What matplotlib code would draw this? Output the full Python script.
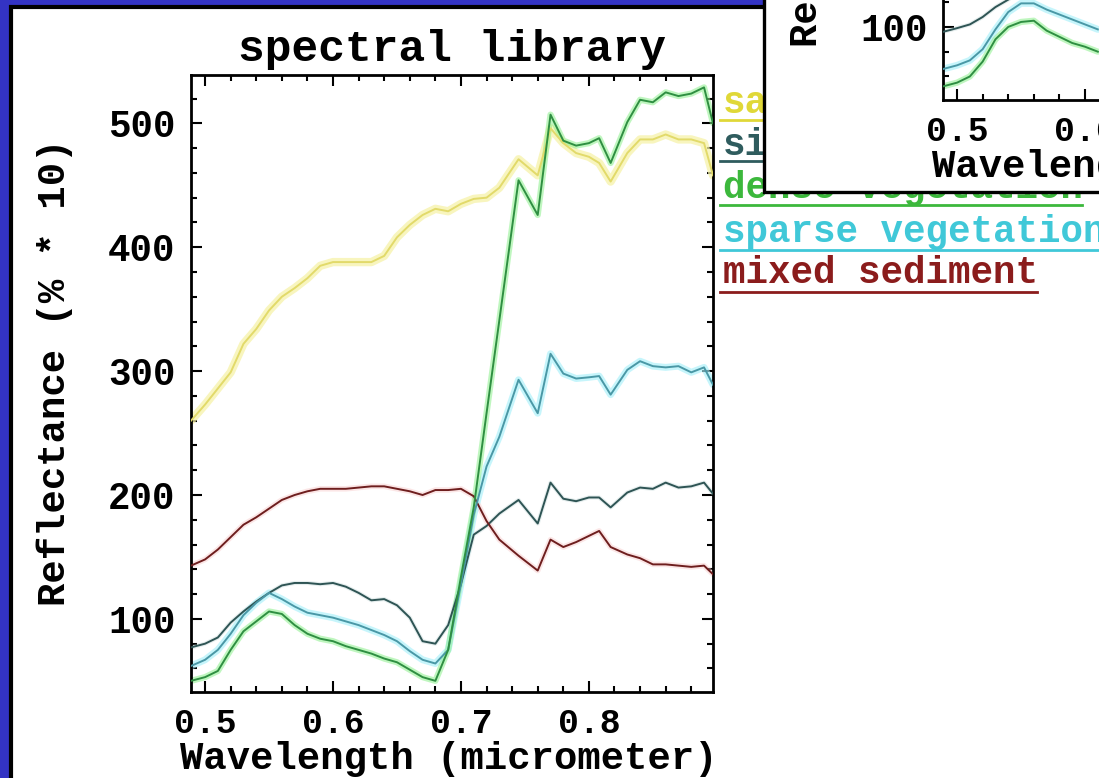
import matplotlib
matplotlib.use("Agg")
import matplotlib.pyplot as plt
from matplotlib.patches import Rectangle
from matplotlib.lines import Line2D
from matplotlib.ticker import MultipleLocator

# ---------------- data ----------------
wavelength = [0.489, 0.50, 0.51, 0.52, 0.53, 0.54, 0.55, 0.56, 0.57, 0.58,
              0.59, 0.60, 0.61, 0.62, 0.63, 0.64, 0.65, 0.66, 0.67, 0.68,
              0.69, 0.70, 0.71, 0.72, 0.73, 0.745, 0.76, 0.77, 0.78, 0.79,
              0.80, 0.808, 0.817, 0.83, 0.84, 0.85, 0.86, 0.87, 0.88, 0.89, 0.897]

sand = [260, 273, 286, 299, 322, 334, 349, 360, 367, 375,
        385, 388, 388, 388, 388, 393, 408, 418, 426, 431,
        429, 435, 439, 440, 448, 471, 458, 496, 484, 476,
        473, 468, 453, 476, 487, 487, 491, 487, 487, 484, 458]

silt = [77, 80, 85, 97, 106, 114, 121, 127, 129, 129,
        128, 129, 126, 121, 115, 116, 111, 101, 82, 80,
        95, 128, 168, 175, 185, 196, 177, 210, 197, 195,
        198, 198, 190, 202, 206, 205, 210, 206, 207, 210, 201]

dense_vegetation = [50, 53, 58, 75, 90, 98, 106, 104, 95, 88,
                    84, 82, 78, 75, 72, 68, 65, 59, 53, 50,
                    75, 134, 190, 266, 341, 454, 426, 507, 486, 482,
                    484, 488, 468, 501, 519, 517, 525, 522, 524, 529, 500]

sparse_vegetation = [62, 67, 75, 88, 103, 113, 121, 116, 110, 105,
                     103, 101, 98, 95, 91, 87, 82, 74, 67, 64,
                     75, 128, 184, 223, 247, 293, 266, 314, 298, 294,
                     295, 296, 281, 301, 308, 304, 303, 304, 299, 303, 289]

mixed_sediment = [143, 148, 156, 166, 176, 182, 189, 196, 200, 203,
                  205, 205, 205, 206, 207, 207, 205, 203, 200, 204,
                  204, 205, 199, 179, 164, 151, 139, 164, 158, 162,
                  167, 171, 158, 152, 149, 144, 144, 143, 142, 143, 136]

# second (overlapping) window, only its lower-left corner is visible
inset_wavelength = [0.489, 0.50, 0.51, 0.52, 0.53, 0.54, 0.55, 0.56, 0.57,
                    0.58, 0.59, 0.60, 0.61]
inset_silt = [96, 99, 102, 108, 116, 122, 128, 131, 133, 133, 132, 132, 130]
inset_sparse = [66, 69, 73, 82, 98, 112, 119, 119, 114, 110, 106, 102, 98]
inset_dense = [52, 55, 60, 72, 90, 100, 104, 105, 97, 92, 87, 84, 80]

series_labels = ["sand", "silt", "dense vegetation", "sparse vegetation",
                 "mixed sediment"]
x_ticks = [0.5, 0.6, 0.7, 0.8]
y_ticks = [100, 200, 300, 400, 500]
title_text = "spectral library"
x_label = "Wavelength (micrometer)"
y_label = "Reflectance (% * 10)"

# ---------------- styles ----------------
styles = {
    "sand":              dict(core="#e2da6a", glow="#f6f2a8", gw=6.0, ga=0.75, text="#e0d838"),
    "silt":              dict(core="#2e5454", glow="#b8d0d0", gw=3.0, ga=0.35, text="#2f5c5e"),
    "dense vegetation":  dict(core="#2f8f42", glow="#8cf08c", gw=4.5, ga=0.55, text="#3cb83c"),
    "sparse vegetation": dict(core="#4a98a6", glow="#a8f0fa", gw=5.0, ga=0.65, text="#40c8d8"),
    "mixed sediment":    dict(core="#6e1e1e", glow="#f8c8c8", gw=4.0, ga=0.45, text="#8b1c1c"),
}

plt.rcParams['font.family'] = ['Liberation Mono', 'DejaVu Sans Mono']

W, H = 1099, 778
fig = plt.figure(figsize=(W / 100, H / 100), dpi=100)
fig.patch.set_facecolor('#3333c4')


def fx(px):
    return px / W


def fy(py):
    return 1 - py / H


# white slide area with black border
fig.patches.append(Rectangle((fx(11), -0.1), 1.2, fy(7) + 0.1,
                             transform=fig.transFigure, facecolor='white',
                             edgecolor='black', linewidth=3, zorder=-5))

AX_W = (713 - 191) / W
AX_H = (692 - 75) / H


def draw_chart(ax, xs, series, ylabel_y=0.519):
    ax.set_facecolor('white')
    for name, ys in series:
        st = styles[name]
        ax.plot(xs, ys, color=st["glow"], lw=st["gw"], alpha=st["ga"],
                solid_joinstyle='round', solid_capstyle='round', zorder=2)
        ax.plot(xs, ys, color=st["core"], lw=1.4, zorder=3)
    ax.set_xlim(0.489, 0.897)
    ax.set_ylim(41, 539)
    ax.set_xticks(x_ticks)
    ax.set_yticks(y_ticks)
    ax.xaxis.set_minor_locator(MultipleLocator(0.02))
    ax.yaxis.set_minor_locator(MultipleLocator(20))
    ax.tick_params(which='both', direction='in', top=True, right=True,
                   width=1.5, color='black')
    ax.tick_params(which='major', length=8)
    ax.tick_params(which='minor', length=4.5)
    ax.tick_params(axis='x', which='major', pad=11, labelsize=25)
    ax.tick_params(axis='y', which='major', pad=11, labelsize=27)
    for lbl in ax.get_xticklabels() + ax.get_yticklabels():
        lbl.set_fontweight('bold')
    for sp in ax.spines.values():
        sp.set_linewidth(2)
        sp.set_color('black')
    ax.set_xlabel(x_label, fontsize=28, fontweight='bold')
    ax.xaxis.set_label_coords(0.494, -(759 - 692) / (692 - 75))
    ax.xaxis.label.set_va('center')
    ax.set_ylabel(y_label, fontsize=28, fontweight='bold')
    ax.yaxis.set_label_coords((55 - 191) / (713 - 191), ylabel_y)
    ax.yaxis.label.set_va('center')


# ---------------- main chart ----------------
ax = fig.add_axes([fx(191), fy(692), AX_W, AX_H])
ax.set_zorder(0)
draw_chart(ax, wavelength, [
    ("sand", sand), ("silt", silt), ("mixed sediment", mixed_sediment),
    ("sparse vegetation", sparse_vegetation),
    ("dense vegetation", dense_vegetation)])
ax.set_title(title_text, fontsize=32, fontweight='bold', pad=10)

# legend-like labels with underlines
leg_text_y = [103, 145, 188, 232, 273]
leg_line_y = [120, 161, 205, 250, 292]
char_px = 27 * 0.6 * 100 / 72
for name, ty, ly in zip(series_labels, leg_text_y, leg_line_y):
    col = styles[name]["text"]
    ax.text(fx(723), fy(ty), name, transform=fig.transFigure, fontsize=27,
            fontweight='bold', color=col, va='center', ha='left',
            clip_on=False)
    ax.add_artist(Line2D([fx(720), fx(722 + len(name) * char_px)], [fy(ly), fy(ly)],
                         transform=fig.transFigure, color=col, lw=2,
                         clip_on=False))

# ---------------- overlapping window (top right) ----------------
fig.patches.append(Rectangle((fx(764), fy(192)), 1.0, 1.0,
                             transform=fig.transFigure, facecolor='white',
                             edgecolor='black', linewidth=2.4, zorder=1))
ax2 = fig.add_axes([fx(943), fy(100), AX_W, AX_H])
ax2.set_zorder(2)
draw_chart(ax2, inset_wavelength, [
    ("silt", inset_silt), ("sparse vegetation", inset_sparse),
    ("dense vegetation", inset_dense)], ylabel_y=0.464)

fig.savefig("out.png", dpi=100, facecolor=fig.get_facecolor())
